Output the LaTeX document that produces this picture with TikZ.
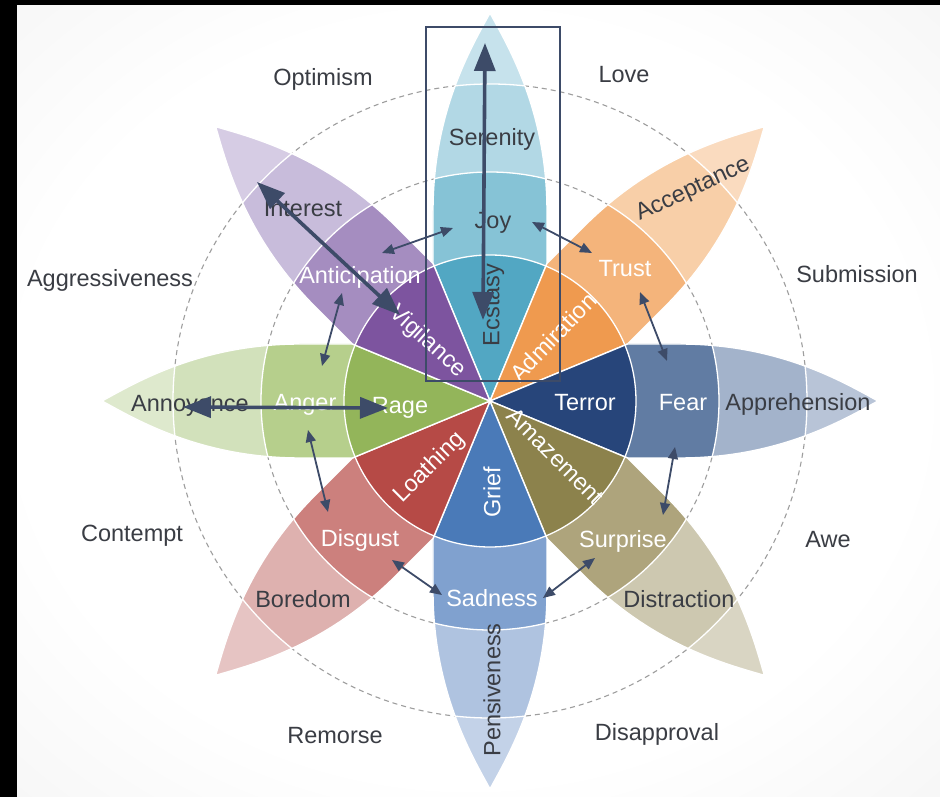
\documentclass[tikz,border=0pt]{standalone}
\usepackage{fontspec}
\setmainfont{Liberation Sans}
\usetikzlibrary{arrows.meta}

% petal colours: intense, basic, mild, tip
\definecolor{joyA}{HTML}{52A7C3}\definecolor{joyB}{HTML}{86C3D6}\definecolor{joyC}{HTML}{B2D8E5}\definecolor{joyD}{HTML}{C6E2EC}
\definecolor{truA}{HTML}{EF9A4F}\definecolor{truB}{HTML}{F4B47B}\definecolor{truC}{HTML}{F8CFA8}\definecolor{truD}{HTML}{FADBBF}
\definecolor{feaA}{HTML}{27457A}\definecolor{feaB}{HTML}{617CA3}\definecolor{feaC}{HTML}{A3B3CB}\definecolor{feaD}{HTML}{B8C4D7}
\definecolor{surA}{HTML}{8C824C}\definecolor{surB}{HTML}{AEA47C}\definecolor{surC}{HTML}{CDC8B0}\definecolor{surD}{HTML}{D9D5C3}
\definecolor{sadA}{HTML}{4A7AB8}\definecolor{sadB}{HTML}{80A1CF}\definecolor{sadC}{HTML}{AFC3E0}\definecolor{sadD}{HTML}{C3D2E8}
\definecolor{disA}{HTML}{B64A46}\definecolor{disB}{HTML}{CC807D}\definecolor{disC}{HTML}{DEB1AF}\definecolor{disD}{HTML}{E6C4C3}
\definecolor{angA}{HTML}{93B55A}\definecolor{angB}{HTML}{B6CF8C}\definecolor{angC}{HTML}{D2E1BB}\definecolor{angD}{HTML}{DEE9CD}
\definecolor{antA}{HTML}{7D549F}\definecolor{antB}{HTML}{A58DC0}\definecolor{antC}{HTML}{C8BCDB}\definecolor{antD}{HTML}{D6CCE4}
\definecolor{labdark}{HTML}{3A3D44}
\definecolor{arrowslate}{HTML}{3D4B68}

\pgfdeclareradialshading{bgglow}{\pgfpoint{0bp}{0bp}}{color(0bp)=(white); color(24bp)=(white); color(62bp)=(black!11)}

\tikzset{
  lab/.style={font=\fontsize{23.5}{28}\selectfont, inner sep=0pt, text height=17pt, text depth=0pt, anchor=center},
  dk/.style={lab, text=labdark},
  wt/.style={lab, text=white},
  ring/.style={draw=black!38, line width=1.1pt, dash pattern=on 5pt off 4pt},
  bandline/.style={draw=white, line width=1.3pt},
  petaledge/.style={draw=white, line width=1.4pt},
  bigarrow/.style={draw=arrowslate, line width=3.6pt, {Triangle[length=28pt,width=21pt]}-{Triangle[length=28pt,width=21pt]}},
  smallarrow/.style={draw=arrowslate, line width=1.8pt, {Triangle[length=12pt,width=10pt]}-{Triangle[length=12pt,width=10pt]}},
  frame/.style={draw=arrowslate, line width=2.4pt}
}

% one petal of the wheel: angle, intense, basic, mild, tip colour
\newcommand\flowerpetal[5]{%
  \begin{scope}[rotate=#1]
    \begin{scope}
      \clip (0,0) -- (137.6,57) -- (190,57) .. controls (290,57) and (355,18) .. (388,0)
        .. controls (355,-18) and (290,-57) .. (190,-57) -- (137.6,-57) -- cycle;
      \fill[#5] (0,0) circle[radius=400];
      \fill[#4] (0,0) circle[radius=317];
      \fill[#3] (0,0) circle[radius=229];
      \fill[#2] (0,0) circle[radius=146];
      \path[bandline] (0,0) circle[radius=146] (0,0) circle[radius=229] (0,0) circle[radius=317];
    \end{scope}
    \path[petaledge] (0,0) -- (137.6,57) -- (190,57) .. controls (290,57) and (355,18) .. (388,0)
      .. controls (355,-18) and (290,-57) .. (190,-57) -- (137.6,-57) -- cycle;
  \end{scope}}

\begin{document}
\begin{tikzpicture}[x=1pt,y=1pt]
\useasboundingbox (-490,-396) rectangle (450,401);
% slide background
\shade[shading=bgglow] (-490,-396) rectangle (450,401);
\fill[black] (-490,-396) rectangle (-473,401);
\fill[black] (-490,396) rectangle (450,401);

% dashed guide circles
\path[ring] (0,0) circle[radius=229];
\path[ring] (0,0) circle[radius=317];

% petals
\flowerpetal{90}{joyA}{joyB}{joyC}{joyD}
\flowerpetal{45}{truA}{truB}{truC}{truD}
\flowerpetal{0}{feaA}{feaB}{feaC}{feaD}
\flowerpetal{-45}{surA}{surB}{surC}{surD}
\flowerpetal{-90}{sadA}{sadB}{sadC}{sadD}
\flowerpetal{-135}{disA}{disB}{disC}{disD}
\flowerpetal{180}{angA}{angB}{angC}{angD}
\flowerpetal{135}{antA}{antB}{antC}{antD}

% emotion labels on the petals
\node[dk] (serenity) at (2,264) {Serenity};
\node[dk] (joy) at (3,181) {Joy};
\node[dk, rotate=90] (ecstasy) at (1,96) {Ecstasy};
\node[wt, rotate=46] (admiration) at (63,64) {Admiration};
\node[wt] (trust) at (135,133) {Trust};
\node[dk, rotate=25] (acceptance) at (202,214) {Acceptance};
\node[wt] (terror) at (95,-1) {Terror};
\node[wt] (fear) at (193,-1) {Fear};
\node[dk] (apprehension) at (308,-1) {Apprehension};
\node[wt, rotate=-45] (amazement) at (66,-55) {Amazement};
\node[wt] (surprise) at (133,-138) {Surprise};
\node[dk] (distraction) at (189,-198) {Distraction};
\node[wt, rotate=90] (grief) at (2,-91) {Grief};
\node[wt] (sadness) at (2,-197) {Sadness};
\node[dk, rotate=90] (pensiveness) at (2,-289) {Pensiveness};
\node[wt, rotate=45] (loathing) at (-62,-65) {Loathing};
\node[wt] (disgust) at (-130,-137) {Disgust};
\node[dk] (boredom) at (-187,-198) {Boredom};
\node[wt] (rage) at (-90,-4) {Rage};
\node[wt] (anger) at (-185,-1) {Anger};
\node[dk] (annoyance) at (-300,-2) {Annoyance};
\node[wt, rotate=-42] (vigilance) at (-61,61) {Vigilance};
\node[wt] (anticipation) at (-130,126) {Anticipation};
\node[dk] (interest) at (-187,193) {Interest};

% combined emotions around the wheel
\node[dk] (optimism) at (-167,324) {Optimism};
\node[dk] (love) at (134,327) {Love};
\node[dk] (submission) at (367,127) {Submission};
\node[dk] (aggressiveness) at (-380,123) {Aggressiveness};
\node[dk] (contempt) at (-358,-132) {Contempt};
\node[dk] (remorse) at (-155,-334) {Remorse};
\node[dk] (disapproval) at (167,-331) {Disapproval};
\node[dk] (awe) at (338,-138) {Awe};

% highlight frame round the joy petal
\coordinate (frameNW) at (-64,374);
\coordinate (frameSE) at (70,20);
\path[frame] (frameNW) rectangle (frameSE);

% arrow end points
\coordinate (vTop) at (-5,358);   \coordinate (vBot) at (-7,81);
\coordinate (dOut) at (-233,219); \coordinate (dIn) at (-90,86);
\coordinate (hOut) at (-307,-6);  \coordinate (hIn) at (-102,-7);
\coordinate (antJ) at (-108,148); \coordinate (joyN) at (-37,173);
\coordinate (joyT) at (42,179);   \coordinate (truJ) at (102,148);
\coordinate (truF) at (150,109);  \coordinate (feaT) at (177,40);
\coordinate (feaS) at (185,-46);  \coordinate (surF) at (173,-114);
\coordinate (surS) at (105,-157); \coordinate (sadS) at (53,-197);
\coordinate (disS) at (-98,-159); \coordinate (sadD) at (-48,-194);
\coordinate (angD) at (-182,-29); \coordinate (disA) at (-162,-111);
\coordinate (antA) at (-148,108); \coordinate (angN) at (-168,35);

% intensity arrows
\path[bigarrow] (vTop) -- (vBot);
\path[bigarrow] (dOut) -- (dIn);
\path[bigarrow] (hOut) -- (hIn);

% neighbour arrows
\path[smallarrow] (antJ) -- (joyN);
\path[smallarrow] (joyT) -- (truJ);
\path[smallarrow] (truF) -- (feaT);
\path[smallarrow] (feaS) -- (surF);
\path[smallarrow] (surS) -- (sadS);
\path[smallarrow] (disS) -- (sadD);
\path[smallarrow] (angD) -- (disA);
\path[smallarrow] (antA) -- (angN);
\end{tikzpicture}
\end{document}
